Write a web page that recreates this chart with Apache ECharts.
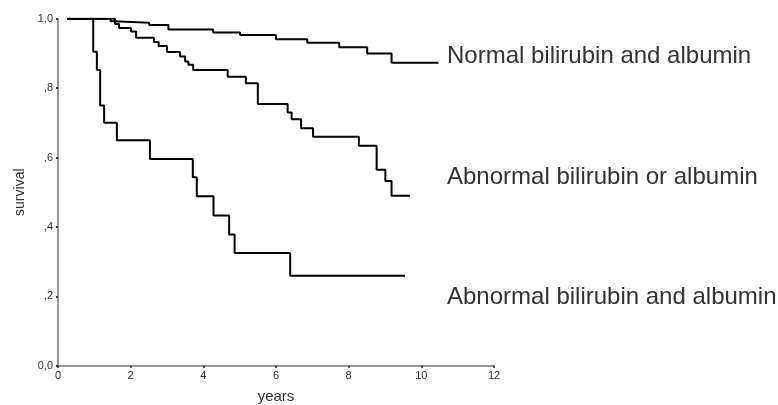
<!DOCTYPE html>
<html>
<head>
<meta charset="utf-8">
<script src="https://cdn.jsdelivr.net/npm/echarts@6/dist/echarts.min.js"></script>
<style>html,body{margin:0;padding:0;background:#fff}#c{width:778px;height:405px}</style>
</head>
<body>
<div id="c"></div>
<script>
// Kaplan-Meier curves: [years, survival]
const seriesNames = ['Normal bilirubin and albumin', 'Abnormal bilirubin or albumin', 'Abnormal bilirubin and albumin'];
const normalTimes = [0.25, 1.45, 1.55, 2.51, 3.04, 4.27, 5.01, 6.00, 6.86, 7.74, 8.51, 9.18, 10.47];
const normalSurv  = [1.0, 0.993, 0.988, 0.982, 0.969, 0.960, 0.953, 0.941, 0.931, 0.918, 0.900, 0.873, 0.873];
const orTimes = [0.25, 1.57, 1.68, 2.01, 2.15, 2.64, 2.77, 3.00, 3.36, 3.50, 3.59, 3.72, 4.67, 5.17, 5.50, 6.32, 6.43, 6.69, 7.02, 8.28, 8.77, 9.01, 9.18, 9.69];
const orSurv  = [1.0, 0.985, 0.973, 0.963, 0.945, 0.933, 0.921, 0.904, 0.891, 0.877, 0.867, 0.852, 0.833, 0.814, 0.754, 0.730, 0.710, 0.684, 0.660, 0.634, 0.565, 0.532, 0.490, 0.490];
const andTimes = [0.25, 0.97, 1.07, 1.16, 1.27, 1.62, 2.53, 3.71, 3.82, 4.28, 4.71, 4.86, 6.39, 9.55];
const andSurv  = [1.0, 0.905, 0.852, 0.750, 0.700, 0.650, 0.596, 0.543, 0.488, 0.433, 0.378, 0.325, 0.259, 0.259];
const xTicks = [0, 2, 4, 6, 8, 10, 12];
const yTickLabels = ['0,0', ',2', ',4', ',6', ',8', '1,0'];
const labelY = [56, 177, 297];

function pairs(t, s) { return t.map((v, i) => [v, s[i]]); }
const dataSets = [pairs(normalTimes, normalSurv), pairs(orTimes, orSurv), pairs(andTimes, andSurv)];

const chart = echarts.init(document.getElementById('c'), null, {renderer: 'canvas'});
const font = 'Liberation Sans, Arial, Helvetica, sans-serif';
const axisLine = {show: true, lineStyle: {color: '#777', width: 1.5}};
chart.setOption({
  animation: false,
  backgroundColor: '#fff',
  grid: {left: 58, top: 18.7, right: 284, bottom: 39.3, containLabel: false, outerBoundsMode: 'none'},
  xAxis: {
    type: 'value', min: xTicks[0], max: xTicks[xTicks.length - 1], interval: 2,
    name: 'years', nameLocation: 'middle', nameGap: 24,
    nameTextStyle: {fontFamily: font, fontSize: 15, color: '#333'},
    axisLine: axisLine,
    axisTick: {show: true, length: 2, inside: false, lineStyle: {color: '#333', width: 2}},
    axisLabel: {fontFamily: font, fontSize: 11, color: '#333', margin: 5},
    splitLine: {show: false}
  },
  yAxis: {
    type: 'value', min: 0, max: 1, interval: 0.2,
    name: 'survival', nameLocation: 'middle', nameGap: 26,
    nameTextStyle: {fontFamily: font, fontSize: 14, color: '#333'},
    axisLine: axisLine,
    axisTick: {show: true, length: 2, lineStyle: {color: '#333', width: 2}},
    axisLabel: {fontFamily: font, fontSize: 11, color: '#333', margin: 5,
      formatter: v => yTickLabels[Math.round(v / 0.2)]},
    splitLine: {show: false}
  },
  series: dataSets.map((d, i) => ({
    name: seriesNames[i], type: 'line', step: 'end', data: d,
    showSymbol: false, symbol: 'none',
    lineStyle: {color: '#000', width: 2}
  })),
  graphic: seriesNames.map((n, i) => ({
    type: 'text', x: 447, y: labelY[i],
    style: {text: n, fontFamily: font, fontSize: 24, fill: '#333', verticalAlign: 'middle', textVerticalAlign: 'middle'}
  }))
});
</script>
</body>
</html>
